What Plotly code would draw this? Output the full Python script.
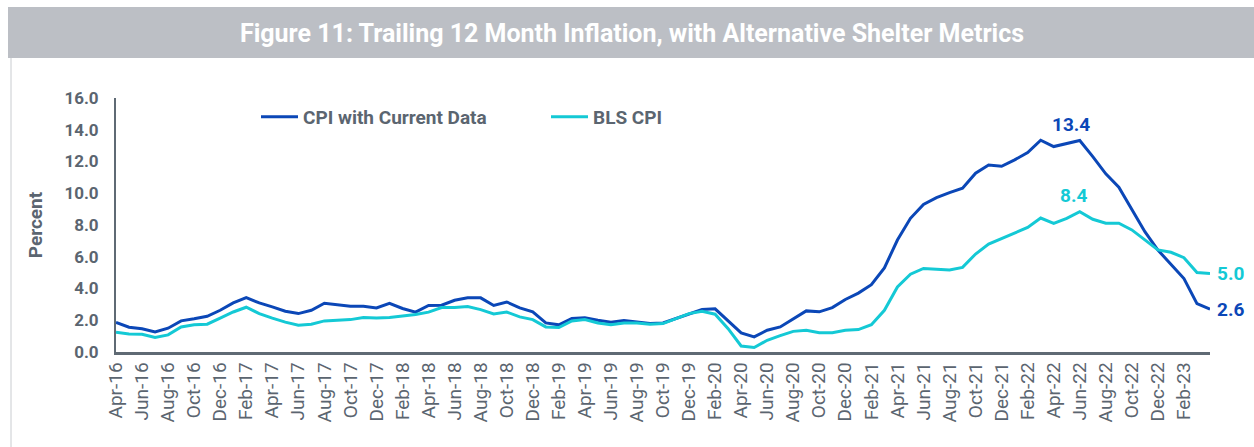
import pandas as pd
import plotly.graph_objects as go

months = list(pd.date_range("2016-04-01", periods=85, freq="MS").strftime("%b-%y"))

cpi_current = [1.86, 1.56, 1.46, 1.26, 1.50, 1.96, 2.09, 2.25, 2.63, 3.09, 3.43, 3.09, 2.84, 2.57, 2.42, 2.63,
               3.07, 2.99, 2.88, 2.88, 2.78, 3.07, 2.74, 2.51, 2.93, 2.95, 3.26, 3.41, 3.41, 2.93, 3.15, 2.78,
               2.53, 1.83, 1.71, 2.11, 2.15, 2.00, 1.87, 1.98, 1.90, 1.79, 1.83, 2.11, 2.42, 2.68, 2.72, 1.96,
               1.20, 0.95, 1.37, 1.58, 2.06, 2.59, 2.53, 2.80, 3.31, 3.71, 4.24, 5.30, 7.05, 8.42, 9.30, 9.72,
               10.04, 10.32, 11.26, 11.78, 11.70, 12.10, 12.56, 13.34, 12.94, 13.15, 13.32, 12.31, 11.22, 10.38,
               8.95, 7.58, 6.42, 5.54, 4.63, 3.05, 2.70]

bls_cpi = [1.24, 1.14, 1.12, 0.91, 1.08, 1.58, 1.71, 1.75, 2.14, 2.52, 2.82, 2.42, 2.13, 1.88, 1.69, 1.75,
           1.96, 2.00, 2.04, 2.17, 2.14, 2.17, 2.27, 2.36, 2.51, 2.80, 2.80, 2.86, 2.67, 2.40, 2.52, 2.21,
           2.04, 1.58, 1.54, 1.96, 2.04, 1.83, 1.71, 1.83, 1.83, 1.75, 1.79, 2.11, 2.42, 2.57, 2.38, 1.47,
           0.38, 0.28, 0.74, 1.03, 1.30, 1.37, 1.22, 1.22, 1.37, 1.41, 1.72, 2.63, 4.10, 4.90, 5.26, 5.22,
           5.16, 5.33, 6.17, 6.80, 7.16, 7.51, 7.85, 8.44, 8.10, 8.42, 8.84, 8.36, 8.11, 8.11, 7.69, 7.06,
           6.43, 6.28, 5.94, 5.01, 4.95]

tick_labels = months[0:84:2]  # Apr-16 ... Feb-23
y_ticks = [0, 2, 4, 6, 8, 10, 12, 14, 16]

BLUE = "#0B47B7"
CYAN = "#14C9D5"
GRAY = "#5B6570"
AXIS = "#5F6A74"
FONT = "Roboto, 'Open Sans', sans-serif"

fig = go.Figure()
fig.add_trace(go.Scatter(x=months, y=cpi_current, mode="lines", name="CPI with Current Data",
                         line=dict(color=BLUE, width=3)))
fig.add_trace(go.Scatter(x=months, y=bls_cpi, mode="lines", name="BLS CPI",
                         line=dict(color=CYAN, width=3)))

peak_i = 74
fig.add_annotation(x=months[peak_i], y=cpi_current[peak_i], text="<b>13.4</b>", showarrow=False,
                   yanchor="bottom", yshift=3, xshift=-9, font=dict(color=BLUE, size=19, family=FONT))
fig.add_annotation(x=months[peak_i], y=bls_cpi[peak_i], text="<b>8.4</b>", showarrow=False,
                   yanchor="bottom", yshift=3, xshift=-6, font=dict(color=CYAN, size=19, family=FONT))
fig.add_annotation(x=months[-1], y=bls_cpi[-1], text="<b>5.0</b>", showarrow=False,
                   xanchor="left", xshift=5, font=dict(color=CYAN, size=19, family=FONT))
fig.add_annotation(x=months[-1], y=cpi_current[-1], text="<b>2.6</b>", showarrow=False,
                   xanchor="left", xshift=5, font=dict(color=BLUE, size=19, family=FONT))

W, H = 1254, 447
L, R, T, B = 116, 44, 98, 95
pw, ph = W - L - R, H - T - B

def px(xp):
    return (xp - L) / pw

def py(yp):
    return (H - B - yp) / ph

fig.add_shape(type="rect", xref="paper", yref="paper", x0=px(8), x1=px(1260), y0=py(58), y1=py(7),
              fillcolor="#BCBFC5", line=dict(width=0), layer="below")
fig.add_shape(type="line", xref="paper", yref="paper", x0=px(11), x1=px(11), y0=py(58), y1=py(450),
              line=dict(color="#C9CCD0", width=1))

fig.update_layout(
    width=W, height=H,
    margin=dict(l=L, r=R, t=T, b=B),
    paper_bgcolor="white", plot_bgcolor="white",
    title=dict(text="<b>Figure 11: Trailing 12 Month Inflation, with Alternative Shelter Metrics</b>",
               x=632 / W, y=1 - 33 / H, xanchor="center", yanchor="middle",
               font=dict(family=FONT, size=25, color="white")),
    legend=dict(orientation="h", x=px(256), y=py(117), xanchor="left", yanchor="middle",
                font=dict(family=FONT, size=19, color=GRAY, weight="bold"), itemwidth=37,
                entrywidth=238, entrywidthmode="pixels", bgcolor="rgba(0,0,0,0)"),
    font=dict(family=FONT, color=GRAY),
)

fig.update_xaxes(type="category", range=[0, 84], tickmode="array", tickvals=tick_labels,
                 ticktext=tick_labels, tickangle=-90, showgrid=False, showline=True,
                 linecolor=AXIS, linewidth=2.5, ticks="", zeroline=False,
                 tickfont=dict(family=FONT, size=19, color=GRAY))
fig.update_yaxes(range=[0, 16], tickvals=y_ticks, tickformat=".1f", showgrid=False, showline=True,
                 linecolor=AXIS, linewidth=2, ticks="", zeroline=False, ticklabelstandoff=12,
                 tickfont=dict(family=FONT, size=17, color=GRAY, weight="bold"),
                 title=dict(text="<b>Percent</b>", standoff=17, font=dict(family=FONT, size=19, color=GRAY)))

fig.write_html("out.html", config={"displayModeBar": False},
               post_script="document.body.style.margin='0';document.body.style.overflow='hidden';")
